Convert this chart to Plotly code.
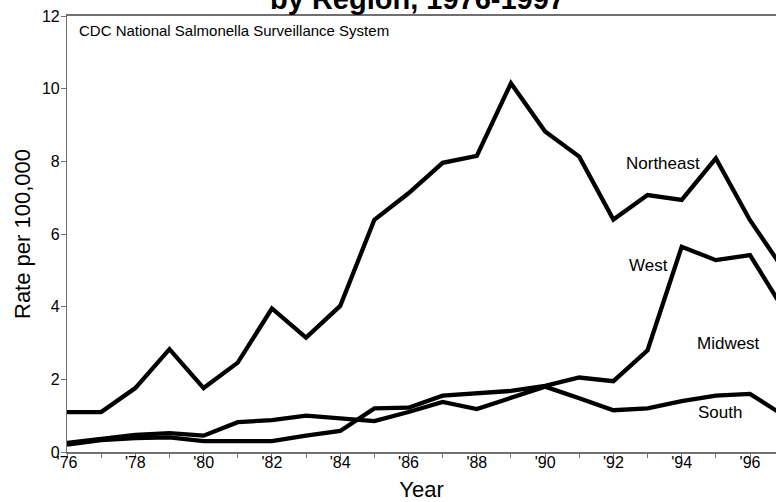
import plotly.graph_objects as go

# Salmonella isolation rates per 100,000 population, by region
years = list(range(1976, 1998))

northeast = [1.10, 1.10, 1.76, 2.83, 1.76, 2.46, 3.95, 3.15, 4.02, 6.39, 7.12, 7.96,
             8.15, 10.15, 8.82, 8.13, 6.40, 7.07, 6.94, 8.08, 6.38, 5.00]
west = [0.20, 0.33, 0.38, 0.40, 0.30, 0.30, 0.30, 0.45, 0.58, 1.20, 1.22, 1.55,
        1.62, 1.68, 1.82, 2.05, 1.95, 2.80, 5.65, 5.28, 5.42, 3.90]
south = [0.25, 0.36, 0.47, 0.52, 0.45, 0.82, 0.88, 1.00, 0.93, 0.85, 1.10, 1.38,
         1.18, 1.48, 1.80, 1.48, 1.15, 1.20, 1.40, 1.55, 1.60, 1.00]

series = {"Northeast": northeast, "West": west, "South": south}

# Region labels placed beside the curves (year, rate)
region_labels = ["Northeast", "West", "Midwest", "South"]
label_x = [1993.45, 1993.04, 1995.38, 1995.12]
label_y = [7.93, 5.13, 3.00, 1.10]

x_tick_years = years
x_tick_text = ["'%02d" % (y % 100) if y % 2 == 0 else "" for y in years]
y_ticks = [0, 2, 4, 6, 8, 10, 12]

FONT = "Liberation Sans, Arial, Helvetica, sans-serif"
AXIS_GRAY = "#707070"

fig = go.Figure()
for name, values in series.items():
    fig.add_trace(go.Scatter(
        x=years, y=values, mode="lines", name=name,
        line=dict(color="black", width=4.3),
        showlegend=False,
    ))

for text, lx, ly in zip(region_labels, label_x, label_y):
    fig.add_annotation(x=lx, y=ly, xref="x", yref="y", text=text,
                       showarrow=False, font=dict(family=FONT, size=17, color="black"))

fig.add_annotation(x=0.014, y=11.59, xref="paper", yref="y", xanchor="left",
                   text="CDC National Salmonella Surveillance System",
                   showarrow=False, font=dict(family=FONT, size=15, color="black"))

# Title sits partly above the top edge of the page
fig.add_annotation(x=0.495, y=1, xref="paper", yref="paper", yanchor="middle",
                   yshift=17, text="<b>by Region, 1976-1997</b>", showarrow=False,
                   font=dict(family=FONT, size=29, color="black"))

fig.update_layout(
    width=776, height=502,
    margin=dict(l=67, r=0, t=16, b=50),
    paper_bgcolor="white", plot_bgcolor="white",
    font=dict(family=FONT, color="black"),
)

fig.update_xaxes(
    range=[1976, 1976 + 709 / 34.15],
    tickmode="array", tickvals=x_tick_years, ticktext=x_tick_text,
    ticks="outside", ticklen=4, tickcolor=AXIS_GRAY, tickwidth=1,
    tickfont=dict(family=FONT, size=16, color="black"),
    ticklabelstandoff=-9,
    showline=True, linecolor=AXIS_GRAY, linewidth=1.5, mirror=True,
    showgrid=False, zeroline=False,
    title=dict(text="Year", font=dict(family=FONT, size=22, color="black"), standoff=22),
    automargin=False,
)
fig.update_yaxes(
    range=[0, 12], tickmode="array", tickvals=y_ticks,
    ticks="outside", ticklen=5, tickcolor=AXIS_GRAY, tickwidth=1,
    tickfont=dict(family=FONT, size=16, color="black"),
    ticklabelstandoff=-2,
    showline=True, linecolor=AXIS_GRAY, linewidth=1.2,
    showgrid=False, zeroline=False,
    title=dict(text="Rate per 100,000", font=dict(family=FONT, size=22, color="black"), standoff=5),
    automargin=False,
)

fig.write_html("out.html")
